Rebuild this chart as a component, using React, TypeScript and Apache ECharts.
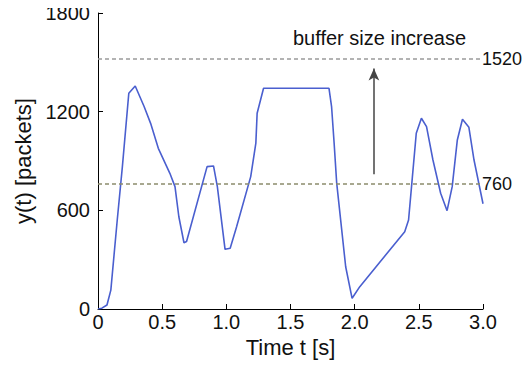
import React, { useEffect, useRef } from "react";
import * as echarts from "echarts";

const timeS = [0, 0.03, 0.07, 0.1, 0.15, 0.19, 0.24, 0.29, 0.36, 0.41, 0.47, 0.56, 0.6, 0.63, 0.67, 0.69, 0.85, 0.9, 0.93, 0.99, 1.03, 1.08, 1.19, 1.23, 1.24, 1.29, 1.8, 1.82, 1.84, 1.86, 1.93, 1.98, 2.04, 2.39, 2.42, 2.45, 2.48, 2.52, 2.56, 2.61, 2.67, 2.72, 2.76, 2.8, 2.84, 2.89, 2.93, 3.0];
const packets = [0, 5, 24, 115, 541, 866, 1312, 1356, 1230, 1129, 977, 825, 744, 561, 403, 410, 866, 870, 744, 363, 369, 500, 805, 1008, 1190, 1342, 1342, 1231, 1008, 765, 257, 65, 136, 470, 541, 805, 1069, 1160, 1109, 906, 704, 598, 744, 1028, 1154, 1105, 906, 640];

const thresholds = [1520, 760];
const thresholdColors = ["#9b9b9b", "#8c8c6c"];
const arrowT = 2.15;
const arrowFrom = 820;
const arrowTo = 1462;
const annotation = "buffer size increase";
const xTitle = "Time t [s]";
const yTitle = "y(t) [packets]";

const FONT = "'Liberation Sans', Arial, Helvetica, sans-serif";

export default function App() {
  const ref = useRef<HTMLDivElement>(null);
  useEffect(() => {
    if (!ref.current) return;
    const chart = echarts.init(ref.current, null, { renderer: "svg" });
    const data = timeS.map((t, i) => [t, packets[i]]);
    chart.setOption({
      animation: false,
      backgroundColor: "#ffffff",
      textStyle: { fontFamily: FONT },
      grid: { left: 98, right: 48, top: 13, bottom: 62, containLabel: false },
      xAxis: {
        type: "value",
        min: 0,
        max: 3,
        interval: 0.5,
        name: xTitle,
        nameLocation: "middle",
        nameGap: 24,
        nameTextStyle: { fontSize: 22, color: "#111", fontFamily: FONT },
        axisLine: { show: true, lineStyle: { color: "#000", width: 1 } },
        axisTick: { show: true, inside: true, length: 5, lineStyle: { color: "#000" } },
        axisLabel: {
          fontSize: 20,
          color: "#111",
          margin: 3,
          fontFamily: FONT,
          formatter: (v: number) => (v === 0 ? "0" : v.toFixed(1)),
        },
        splitLine: { show: false },
      },
      yAxis: {
        type: "value",
        min: 0,
        max: 1800,
        interval: 600,
        name: yTitle,
        nameLocation: "middle",
        nameGap: 60,
        nameTextStyle: { fontSize: 22, color: "#111", fontFamily: FONT },
        axisLine: { show: true, lineStyle: { color: "#000", width: 1 } },
        axisTick: { show: true, inside: true, length: 5, lineStyle: { color: "#000" } },
        axisLabel: {
          fontSize: 20,
          color: "#111",
          margin: 8,
          fontFamily: FONT,
          formatter: (v: number) => String(v),
        },
        splitLine: { show: false },
      },
      series: [
        {
          type: "line",
          data,
          showSymbol: false,
          symbol: "none",
          lineStyle: { color: "#4a5fcf", width: 1.6 },
          z: 3,
          markLine: {
            silent: true,
            symbol: ["none", "none"],
            data: thresholds.map((v, i) => ({
              yAxis: v,
              lineStyle: { color: thresholdColors[i], type: [4, 3], width: 1.5 },
              label: {
                show: true,
                position: "end",
                distance: -1,
                formatter: String(v),
                fontSize: 18,
                color: "#111",
                fontFamily: FONT,
              },
            })),
          },
        },
        {
          type: "line",
          data: [],
          markLine: {
            silent: true,
            symbol: ["none", "arrow"],
            symbolSize: [8, 12],
            label: { show: false },
            lineStyle: { color: "#444", type: "solid", width: 1.5 },
            data: [[{ coord: [arrowT, arrowFrom] }, { coord: [arrowT, arrowTo] }]],
          },
        },
      ],
      graphic: [
        {
          type: "text",
          x: 293,
          y: 38,
          style: {
            text: annotation,
            fontSize: 20,
            fill: "#111",
            fontFamily: FONT,
            verticalAlign: "middle",
          },
        },
      ],
    });
    return () => chart.dispose();
  }, []);
  return <div ref={ref} style={{ width: 531, height: 371, margin: -8 }} />;
}
